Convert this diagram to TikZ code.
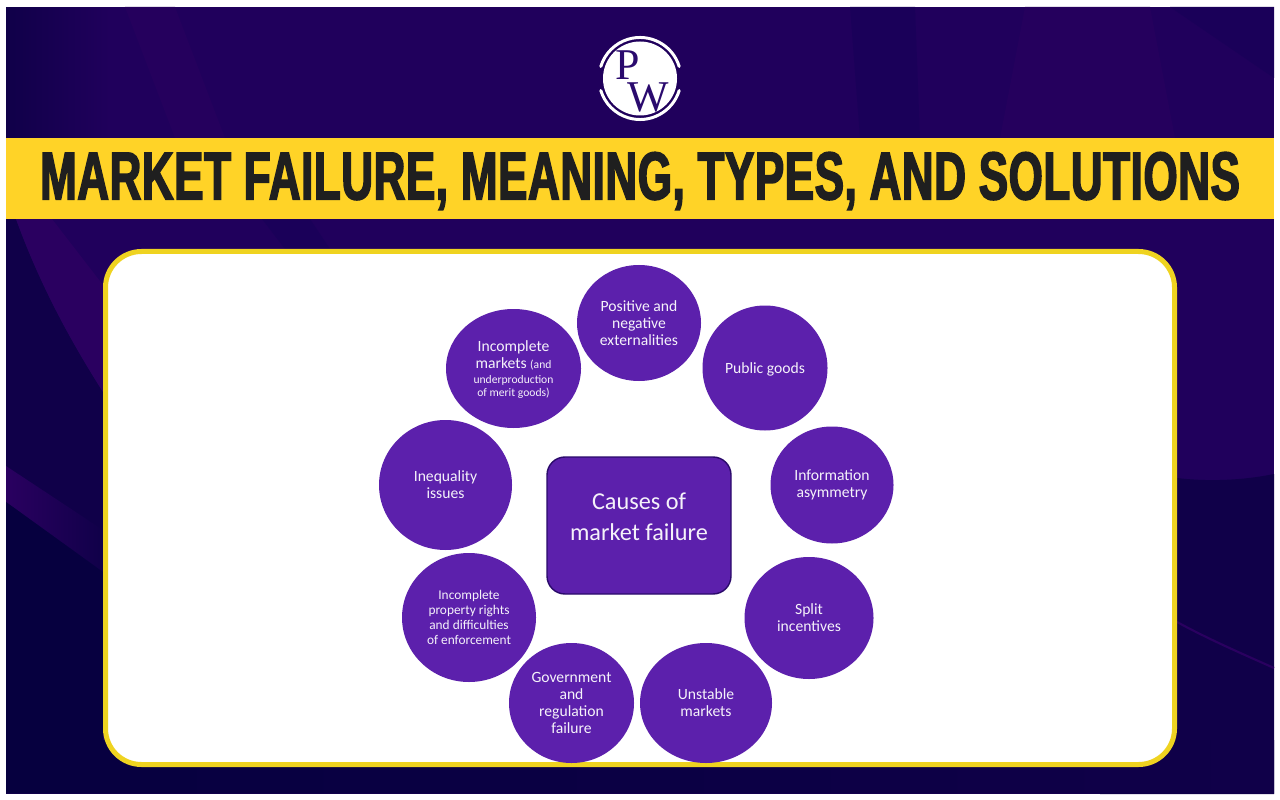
\documentclass[tikz,border=0pt]{standalone}
\usepackage{fontspec}
\setmainfont{Carlito}
\newfontfamily\titlefont[FakeBold=2.2,FakeStretch=0.65,LetterSpace=0.85]{Liberation Sans Bold}
\newfontfamily\logofont{Liberation Serif}
\usetikzlibrary{shapes.geometric}
\definecolor{bandtop}{HTML}{20005C}
\definecolor{bandsoft}{HTML}{25005D}
\definecolor{bandlight}{HTML}{2A0060}
\definecolor{banddark}{HTML}{1A0059}
\definecolor{bandlow}{HTML}{100049}
\definecolor{banddeep}{HTML}{06003F}
\definecolor{titleyellow}{HTML}{FFD327}
\definecolor{cardyellow}{HTML}{EFD320}
\definecolor{causefill}{HTML}{5C20AC}
\definecolor{causeedge}{HTML}{2A0A6A}
\definecolor{logopurple}{HTML}{2A0A6E}
\tikzset{
    cause/.style 2 args={ellipse, fill=causefill, text=white!94!causefill, align=center, inner sep=0pt,
        minimum width=#1*0.02cm, minimum height=#2*0.02cm, font=\fontsize{8.9}{9.6}\selectfont},
    logoletter/.style={text=logopurple, inner sep=0pt, font=\logofont\fontsize{25}{25}\selectfont}
}
\begin{document}
\begin{tikzpicture}[x=0.02cm, y=-0.02cm]
    \useasboundingbox (0,0) rectangle (1280,800);
    % background
    \fill[white] (0,0) rectangle (1280,800);
    \fill[bandtop] (6,7) rectangle (1274,794);
    \shade[left color=bandlow, right color=bandtop] (6,8) rectangle (110,138);
    \fill[bandsoft] (125,7) -- (175,7) -- (225,138) -- (175,138) -- cycle;
    \fill[banddark] (850,7) -- (915,7) -- (920,138) -- (860,138) -- cycle;
    \fill[bandsoft] (1025,7) -- (1150,7) -- (1175,138) -- (1000,138) -- cycle;
    \fill[banddark] (1170,7) -- (1274,7) -- (1274,78) -- cycle;
    \fill[banddark] (262,219) -- (310,219) -- (330,249) -- (285,249) -- cycle;
    \fill[bandlow] (6,219) -- (16,219) .. controls (40,285) and (70,340) .. (103,392) -- (103,572) -- (6,502) -- cycle;
    \fill[bandlight] (16,219) -- (52,219) -- (103,285) -- (103,392) .. controls (70,340) and (40,285) .. (16,219) -- cycle;
    \shade[left color=bandlight, right color=bandlow] (6,466) -- (103,530) -- (103,572) -- (6,502) -- cycle;
    \fill[bandlow] (1177,478) .. controls (1210,482) and (1245,480) .. (1274,474) -- (1274,794) -- (1100,794) -- (1100,478) -- cycle;
    \shade[left color=banddeep, right color=bandlow] (6,502) -- (103,572) -- (103,740) -- (1274,740) -- (1274,793.5) -- (6,793.5) -- cycle;
    \draw[bandlight, line width=1.2pt] (1177,622) .. controls (1210,640) and (1245,655) .. (1274,668);
    % logo
    \node[circle, fill=white, inner sep=0pt, minimum size=74*0.02cm] (logo) at (640,78.5) {};
    \draw[white, line width=1.7pt, line cap=round] (679.2,66.5) arc[start angle=-17, end angle=-163, radius=41];
    \draw[white, line width=1.7pt, line cap=round] (679.2,90.5) arc[start angle=17, end angle=163, radius=41];
    \node[logoletter] (letterp) at (628,65) {P};
    \node[logoletter] (letterw) at (648,97.5) {W};
    % title
    \fill[titleyellow] (6,138) rectangle (1274,219);
    \node[text=black!88, inner sep=0pt, font=\titlefont\fontsize{38.5}{38.5}\selectfont] (title) at (640,181) {MARKET FAILURE, MEANING, TYPES, AND SOLUTIONS};
    % card
    \draw[cardyellow, fill=white, line width=5*0.02cm, rounded corners=36*0.02cm] (105.5,251.5) rectangle (1174.5,764.5);
    % causes
    \node[fill=causefill, draw=causeedge, line width=0.8pt, rounded corners=18*0.02cm,
        minimum width=184*0.02cm, minimum height=137*0.02cm] (causes) at (639,525.5) {};
    \node[text=white!94!causefill, align=center, font=\fontsize{13.8}{17.4}\selectfont] (causestext) at (639,517) {Causes of\\market failure};
    \node[cause={124}{116}] (externalities) at (639,323) {Positive and\\negative\\externalities};
    \node[cause={125}{125}, text depth=0pt] (publicgoods) at (765,368) {Public goods};
    \node[cause={123}{117}] (information) at (832,485) {Information\\asymmetry};
    \node[cause={129}{122}] (incentives) at (809,618) {Split\\incentives};
    \node[cause={132}{120}] (unstable) at (706,703) {Unstable\\markets};
    \node[cause={125}{120}] (government) at (571.5,703) {Government\\and\\regulation\\failure};
    \node[cause={134}{129}, font=\fontsize{7.6}{8.6}\selectfont] (property) at (469,617.5) {Incomplete\\property rights\\and difficulties\\of enforcement};
    \node[cause={133}{130}] (inequality) at (445.5,485) {Inequality\\issues};
    \node[cause={135}{119}, text depth=0pt] (incomplete) at (513.5,368.5) {Incomplete\\markets {\fontsize{6.6}{9.6}\selectfont(and}\\[-1pt]{\fontsize{6.6}{8.6}\selectfont underproduction}\\[-2pt]{\fontsize{6.6}{8.6}\selectfont of merit goods)}};
\end{tikzpicture}
\end{document}
